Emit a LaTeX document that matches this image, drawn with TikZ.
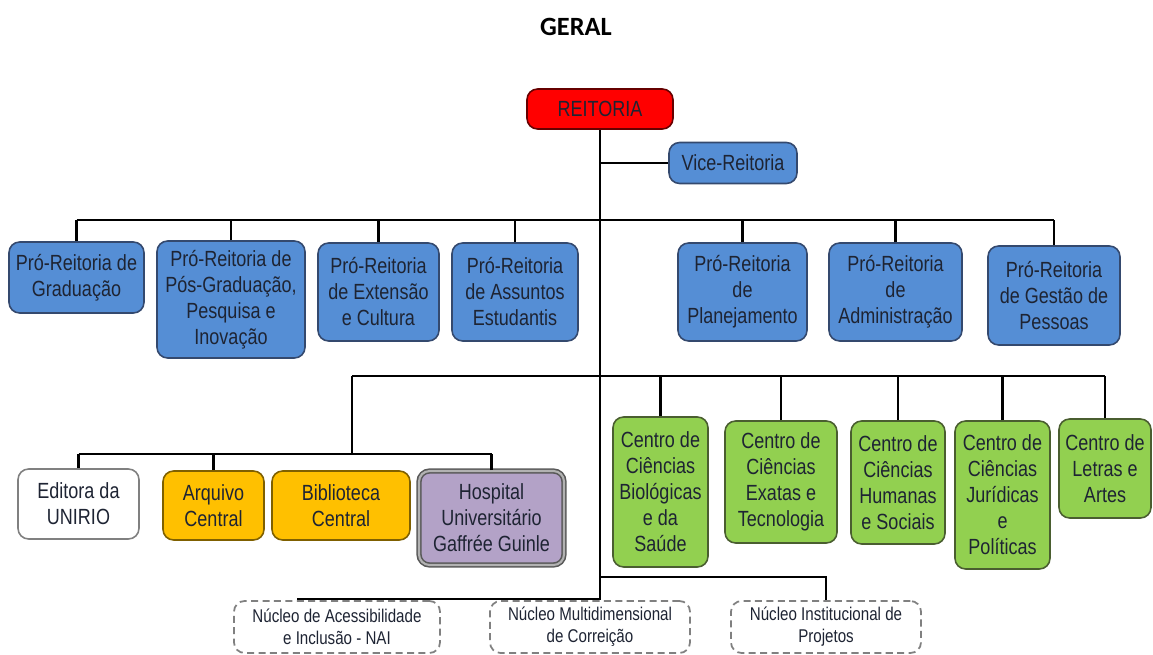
\documentclass[tikz,border=0pt]{standalone}
\usepackage{fontspec}
\setmainfont{Liberation Sans}[FakeStretch=0.82]
\newfontfamily\titlefont{Carlito}
\definecolor{reitred}{HTML}{FF0000}
\definecolor{problue}{HTML}{558ED5}
\definecolor{blueline}{HTML}{34496E}
\definecolor{centgreen}{HTML}{92D050}
\definecolor{greenline}{HTML}{4A5E30}
\definecolor{orgyellow}{HTML}{FFC000}
\definecolor{yellowline}{HTML}{7F6000}
\definecolor{hosppurple}{HTML}{B3A2C7}
\definecolor{textdark}{HTML}{1E2433}
\begin{document}
\begin{tikzpicture}[x=0.02cm, y=-0.02cm,
  box/.style={draw=blueline, line width=0.9pt, rounded corners=6pt, align=center,
    text=textdark, inner sep=1pt, font=\fontsize{12.5}{14.8}\selectfont},
  pro/.style={box, fill=problue},
  centro/.style={box, draw=greenline, fill=centgreen},
  orgao/.style={box, draw=yellowline, fill=orgyellow},
  nucleo/.style={box, draw=gray, line width=1pt, dash pattern=on 4pt off 2.5pt, fill=white,
    font=\fontsize{10.5}{12.5}\selectfont},
  link/.style={line width=1.2pt}]
\useasboundingbox (0,0) rectangle (1153,655);

\node[font=\titlefont\bfseries\fontsize{15}{18}\selectfont] (titulo) at (576,27) {GERAL};

% reitoria
\node[box, draw=red!40!black, fill=reitred, minimum width=2.92cm, minimum height=0.80cm] (reit) at (600,109) {REITORIA};
\node[pro, minimum width=2.56cm, minimum height=0.82cm] (vice) at (733,163) {Vice-Reitoria};

% pro-reitorias
\node[pro, minimum width=2.70cm, minimum height=1.42cm] (grad) at (76.5,277.5) {Pró-Reitoria de\\Graduação};
\node[pro, minimum width=2.96cm, minimum height=2.34cm] (posg) at (231,299.5) {Pró-Reitoria de\\Pós-Graduação,\\Pesquisa e\\Inovação};
\node[pro, minimum width=2.42cm, minimum height=1.96cm] (ext) at (378.5,292) {Pró-Reitoria\\de Extensão\\e Cultura};
\node[pro, minimum width=2.52cm, minimum height=1.96cm] (assu) at (515,292) {Pró-Reitoria\\de Assuntos\\Estudantis};
\node[pro, minimum width=2.58cm, minimum height=1.96cm] (plan) at (742.5,292) {Pró-Reitoria\\de\\Planejamento};
\node[pro, minimum width=2.66cm, minimum height=1.96cm] (adm) at (895.5,292) {Pró-Reitoria\\de\\Administração};
\node[pro, minimum width=2.64cm, minimum height=1.98cm] (pess) at (1054,295.5) {Pró-Reitoria\\de Gestão de\\Pessoas};

% orgaos suplementares
\node[box, draw=gray, fill=white, minimum width=2.42cm, minimum height=1.40cm] (edit) at (78.5,504) {Editora da\\UNIRIO};
\node[orgao, minimum width=2.02cm, minimum height=1.38cm] (arq) at (213.5,505.5) {Arquivo\\Central};
\node[orgao, minimum width=2.76cm, minimum height=1.38cm] (bib) at (341,505.5) {Biblioteca\\Central};
\node[box, draw=black!65, double=gray!60, double distance=1.2pt, fill=hosppurple,
  minimum width=2.90cm, minimum height=1.88cm] (hosp) at (491.5,518) {Hospital\\Universitário\\Gaffrée Guinle};

% centros
\node[centro, minimum width=1.90cm, minimum height=3.00cm] (ccbs) at (660.5,492) {Centro de\\Ciências\\Biológicas\\e da\\Saúde};
\node[centro, minimum width=2.24cm, minimum height=2.44cm] (ccet) at (781,482) {Centro de\\Ciências\\Exatas e\\Tecnologia};
\node[centro, minimum width=1.88cm, minimum height=2.46cm] (cch) at (898,482.5) {Centro de\\Ciências\\Humanas\\e Sociais};
\node[centro, minimum width=1.90cm, minimum height=2.96cm] (ccjp) at (1002.5,495) {Centro de\\Ciências\\Jurídicas\\e\\Políticas};
\node[centro, minimum width=1.84cm, minimum height=1.98cm] (cla) at (1105,468.5) {Centro de\\Letras e\\Artes};

% nucleos
\node[nucleo, minimum width=4.12cm, minimum height=1.04cm] (nai) at (337,627) {Núcleo de Acessibilidade\\e Inclusão - NAI};
\node[nucleo, minimum width=4.00cm, minimum height=1.04cm] (corr) at (590,627) {Núcleo Multidimensional\\de Correição};
\node[nucleo, minimum width=3.80cm, minimum height=1.04cm] (proj) at (826,627) {Núcleo Institucional de\\Projetos};

% ligacoes
\draw[link] (reit.south) -- (reit.south |- corr.north);
\draw[link] (reit.south |- vice.west) -- (vice.west);

\coordinate (bus1) at (0,220);
\draw[link] (grad.north |- bus1) -- (pess.north |- bus1);
\foreach \n in {grad,posg,ext,assu,plan,adm,pess}
  \draw[link] (\n.north) -- (\n.north |- bus1);

\coordinate (bus2) at (352,376);
\draw[link] (bus2) -- (cla.north |- bus2);
\foreach \n in {ccbs,ccet,cch,ccjp,cla}
  \draw[link] (\n.north) -- (\n.north |- bus2);

\coordinate (bus3) at (352,454);
\draw[link] (bus2) -- (bus3);
\draw[link] (edit.north |- bus3) -- (hosp.north |- bus3);
\foreach \n in {edit,arq,hosp}
  \draw[link] (\n.north) -- (\n.north |- bus3);

\coordinate (naij) at (298,599);
\draw[link] (reit.south |- naij) -- (naij) -- (naij |- nai.north);
\coordinate (projj) at (0,577);
\draw[link] (reit.south |- projj) -| (proj.north);
\end{tikzpicture}
\end{document}
